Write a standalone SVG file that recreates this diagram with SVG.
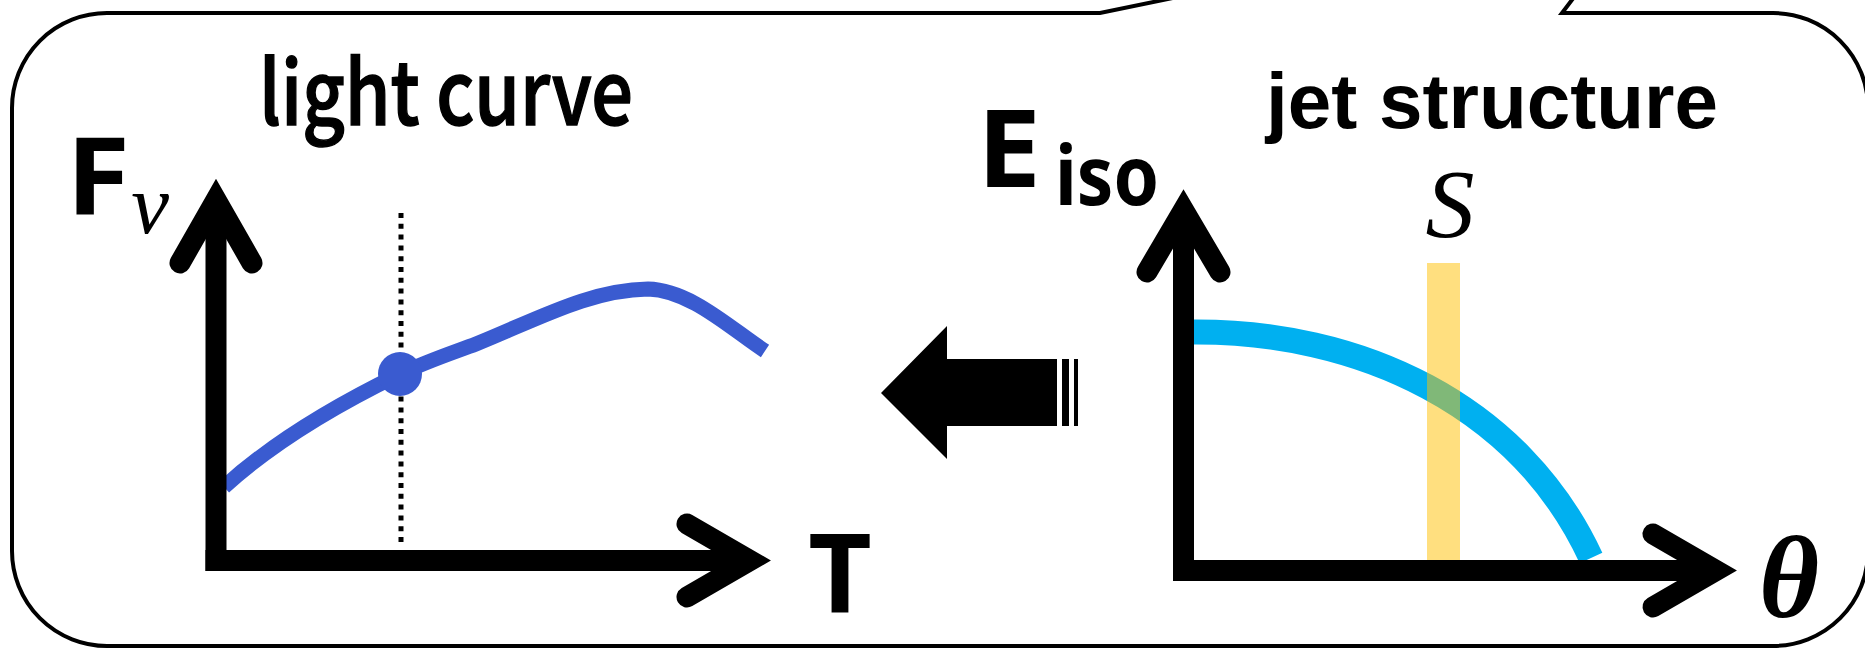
<svg xmlns="http://www.w3.org/2000/svg" width="1865" height="650" viewBox="0 0 1865 650">
<style>
.frame{fill:#fff;stroke:#000;stroke-width:4;stroke-linejoin:miter}
.shaft{stroke:#000;stroke-width:21;fill:none;stroke-linecap:butt}
.head{stroke:#000;stroke-width:21;fill:none;stroke-linecap:round;stroke-linejoin:miter;stroke-miterlimit:10}
.title{fill:#000}
.lbl{font-family:'Noto Sans','DejaVu Sans',sans-serif;font-weight:700;fill:#000}
.math{font-family:'Liberation Serif','Times New Roman',serif;font-style:italic;fill:#000}
</style>
<rect width="1865" height="650" fill="#fff"/>
<g id="frame">
<path class="frame" d="M1648,-100 L1100,13 L107,13 A95,95 0 0 0 12,108 L12,551 A95,95 0 0 0 107,646 L1773,646 A95,95 0 0 0 1868,551 L1868,108 A95,95 0 0 0 1773,13 L1562,13 Z"/>
</g>
<g id="light-curve">
<text class="title" x="259" y="125" font-family="'Noto Sans CJK JP','Noto Sans',sans-serif" font-weight="500" font-size="88" textLength="374" lengthAdjust="spacingAndGlyphs" stroke="#000" stroke-width="1.5">light curve</text>
<text class="lbl" x="98" y="214" font-size="108" text-anchor="middle" textLength="64" lengthAdjust="spacingAndGlyphs">F</text>
<text class="math" x="150" y="233" font-size="85" text-anchor="middle">ν</text>
<text class="lbl" x="840" y="612" font-size="110" text-anchor="middle">T</text>
<line x1="401" y1="213" x2="401" y2="546" stroke="#000" stroke-width="5" stroke-dasharray="5 5.8"/>
<path d="M224,487 C270,445 330,408 400,374 C430,360 455,352 476,344 C540,318 590,290 648,289 C690,290 730,328 765,351" fill="none" stroke="#3A5BD0" stroke-width="15"/>
<circle cx="400" cy="374" r="22" fill="#3A5BD0"/>
<line class="shaft" x1="216" y1="205" x2="216" y2="571"/>
<polyline class="head" points="180,263 216,200 252,263"/>
<line class="shaft" x1="205.5" y1="560.5" x2="752" y2="560.5"/>
<polyline class="head" points="687,524 750,560.5 687,597"/>
</g>
<g id="jet-structure">
<text class="title" x="1266" y="128" font-family="'Liberation Sans',Arial,sans-serif" font-weight="700" font-size="78" textLength="452" lengthAdjust="spacingAndGlyphs">jet structure</text>
<text class="lbl" x="1009" y="187" font-size="108" text-anchor="middle" textLength="64" lengthAdjust="spacingAndGlyphs">E</text>
<text class="lbl" x="1055" y="205" font-size="82" textLength="104" lengthAdjust="spacingAndGlyphs">iso</text>
<text class="math" x="1450" y="237" font-size="98" text-anchor="middle">S</text>
<text class="math" x="1789" y="617" font-size="116" font-weight="700" text-anchor="middle">θ</text>
<path d="M1190,332 C1360,330 1520,405 1591,558" fill="none" stroke="#00B0F0" stroke-width="25"/>
<rect x="1427" y="263" width="33" height="297" fill="#FFC000" fill-opacity="0.5"/>
<line class="shaft" x1="1183.5" y1="215" x2="1183.5" y2="581"/>
<polyline class="head" points="1147,272 1183.5,210 1220,272"/>
<line class="shaft" x1="1173" y1="570.5" x2="1718" y2="570.5"/>
<polyline class="head" points="1653,534 1716,570.5 1653,607"/>
</g>
<g id="connectors">
<polygon points="881,393 947,326 947,359 1057,359 1057,426 947,426 947,459" fill="#000"/>
<rect x="1062" y="359" width="7" height="67" fill="#000"/>
<rect x="1074" y="359" width="4" height="67" fill="#000"/>
</g>
</svg>
